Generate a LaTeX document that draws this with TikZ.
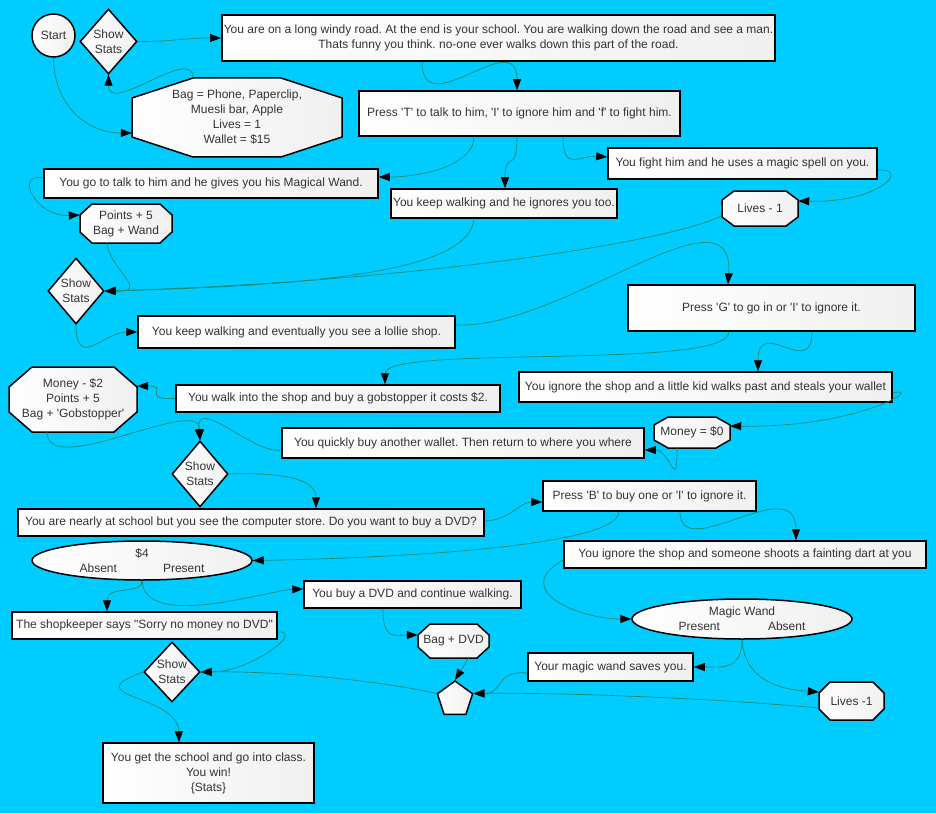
\documentclass[tikz,border=0pt]{standalone}
\usepackage{fontspec}
\setmainfont{Liberation Sans}[Ligatures=TeXOff]
\usetikzlibrary{shapes.geometric,arrows.meta}

\definecolor{skyblue}{HTML}{00CCFF}
\definecolor{linkgreen}{HTML}{188A6C}
\newcommand{\boxfont}{\fontsize{12}{15}\selectfont\frenchspacing}

% stretched octagon: name, x, y, width, height, cut x, cut y, text
\newcommand{\octbox}[8]{%
  \path[octshape] (#2-#4/2+#6,#3-#5/2) -- (#2+#4/2-#6,#3-#5/2) -- (#2+#4/2,#3-#5/2+#7) -- (#2+#4/2,#3+#5/2-#7)
    -- (#2+#4/2-#6,#3+#5/2) -- (#2-#4/2+#6,#3+#5/2) -- (#2-#4/2,#3+#5/2-#7) -- (#2-#4/2,#3-#5/2+#7) -- cycle;
  \node[octtext, minimum width=#4pt, minimum height=#5pt] (#1) at (#2,#3) {#8};
}

\begin{document}
\begin{tikzpicture}[x=1pt, y=-1pt,
    box/.style={draw, rectangle, line width=1.5pt, left color=white, right color=black!6, text=black!80, font=\boxfont, inner sep=2pt, align=center},
    choice/.style={box, diamond, aspect=0.85, inner sep=0pt},
    oval/.style={box, ellipse, inner sep=0pt},
    octshape/.style={draw, line width=1.5pt, left color=white, right color=black!6},
    octtext/.style={rectangle, inner sep=0pt, text=black!80, font=\boxfont, align=center},
    arrow/.style={draw=linkgreen, line width=0.7pt, -{Triangle[length=11pt,width=8pt,color=black]}}
]

\useasboundingbox (0,0) rectangle (936,813);
\fill[skyblue] (0,0) rectangle (936,813);

% The road
\node[box, circle, minimum size=43pt, inner sep=0pt] (start) at (53.5,35.5) {Start};
\node[choice, minimum width=57pt, minimum height=65pt] (stats1) at (108.5,41.5) {Show\\Stats};
\node[box, minimum width=551pt, minimum height=46pt] (road) at (498.5,38) {You are on a long windy road. At the end is your school. You are walking down the road and see a man.\\Thats funny you think. no-one ever walks down this part of the road.};
\octbox{bag}{237}{117.5}{210}{79}{61}{20}{Bag = Phone, Paperclip,\\Muesli bar, Apple\\Lives = 1\\Wallet = \$15}
\node[box, minimum width=321pt, minimum height=45pt] (man) at (519.5,113.5) {Press 'T' to talk to him, 'I' to ignore him and 'f' to fight him.};
\node[box, minimum width=334pt, minimum height=29pt] (talk) at (211,183.5) {You go to talk to him and he gives you his Magical Wand.};
\octbox{wand}{126}{223.5}{92}{39}{12}{11}{Points + 5\\Bag + Wand}
\node[box, minimum width=226pt, minimum height=29pt] (ignore) at (504,203.5) {You keep walking and he ignores you too.};
\node[box, minimum width=269pt, minimum height=31pt] (fight) at (742.5,163.5) {You fight him and he uses a magic spell on you.};
\octbox{hurt}{760}{208.5}{76}{35}{12}{9}{Lives - 1}

% Lollie shop
\node[choice, minimum width=56pt, minimum height=66pt] (stats2) at (76,291) {Show\\Stats};
\node[box, minimum width=317pt, minimum height=32pt] (lollie) at (296.5,332) {You keep walking and eventually you see a lollie shop.};
\node[box, minimum width=287pt, minimum height=46pt] (shop) at (771.5,308) {Press 'G' to go in or 'I' to ignore it.};
\octbox{gob}{73}{399.5}{128}{65}{23}{20}{Money - \$2\\Points + 5\\Bag + 'Gobstopper'}
\node[box, minimum width=324pt, minimum height=27pt] (goin) at (338,398.5) {You walk into the shop and buy a gobstopper it costs \$2.};
\node[box, minimum width=373pt, minimum height=30pt] (kid) at (705.5,387) {You ignore the shop and a little kid walks past and steals your wallet};
\octbox{broke}{692}{432.5}{76}{31}{14}{8}{Money = \$0}
\node[box, minimum width=362pt, minimum height=30pt] (wallet) at (463,443) {You quickly buy another wallet. Then return to where you where};
\node[choice, minimum width=56pt, minimum height=66pt] (stats3) at (200,474) {Show\\Stats};

% Computer store
\node[box, minimum width=466pt, minimum height=27pt] (store) at (251,522.5) {You are nearly at school but you see the computer store. Do you want to buy a DVD?};
\node[box, minimum width=213pt, minimum height=30pt] (dvd) at (649.5,496) {Press 'B' to buy one or 'I' to ignore it.};
\node[oval, minimum width=220pt, minimum height=39pt] (cash) at (142,560.5) {\$4\\Absent\hspace{46pt}Present};
\node[box, minimum width=362pt, minimum height=27pt] (dart) at (745,554.5) {You ignore the shop and someone shoots a fainting dart at you};
\node[box, minimum width=217pt, minimum height=27pt] (buy) at (412.5,594.5) {You buy a DVD and continue walking.};
\node[box, minimum width=265pt, minimum height=27pt] (nomoney) at (144.5,625.5) {The shopkeeper says "Sorry no money no DVD"};
\octbox{bagdvd}{453.5}{641}{71}{34}{12}{11}{Bag + DVD}
\node[oval, minimum width=220pt, minimum height=40pt] (magic) at (742,619) {Magic Wand\\Present\hspace{48pt}Absent};
\node[box, minimum width=165pt, minimum height=28pt] (saved) at (610.5,667) {Your magic wand saves you.};
\node[choice, minimum width=56pt, minimum height=60pt] (stats4) at (172,672) {Show\\Stats};
\node[box, regular polygon, regular polygon sides=5, minimum size=37pt, inner sep=0pt] (join) at (455,699.5) {};
\octbox{dead}{851.5}{701}{65}{38}{11}{11}{Lives -1}
\node[box, minimum width=211pt, minimum height=60pt] (win) at (208.5,773) {You get the school and go into class.\\You win!\\\{Stats\}};

% Arrows
\draw[arrow] (start.south) .. controls +(0,45) and +(-47,0) .. ([yshift=-15.5pt]bag.west);
\draw[arrow] ([xshift=-44pt]bag.north) .. controls +(0,-33) and +(0,41) .. (stats1.south);
\draw[arrow] (stats1.east) .. controls +(40,0) and +(-40,0) .. (road.west);
\draw[arrow] ([xshift=-76.5pt]road.south) .. controls +(0,64) and +(0,-66) .. ([xshift=-2.5pt]man.north);
\draw[arrow] ([xshift=-45.5pt]man.south) .. controls +(0,29) and +(42,0) .. ([yshift=6.5pt]talk.east);
\draw[arrow] ([xshift=-2.5pt]man.south) .. controls +(0,39) and +(0,-39) .. ([xshift=1pt]ignore.north);
\draw[arrow] ([xshift=43.5pt]man.south) .. controls +(0,36) and +(-28,-2) .. ([yshift=6.5pt]fight.west);
\draw[arrow] ([yshift=-6.5pt]fight.east) .. controls +(33,-2) and +(82,2) .. ([yshift=7.5pt]hurt.east);
\draw[arrow] ([yshift=5.5pt]talk.west) .. controls +(-29,-6) and +(-45,2) .. ([yshift=8.5pt]wand.west);
\draw[arrow] ([xshift=-19pt]wand.south) .. controls +(3,27) and +(46,1) .. (stats2.east);
\draw[arrow] ([xshift=-30pt]ignore.south) .. controls +(-4,47) and +(246,-6) .. (stats2.east);
\draw[arrow] ([yshift=-7.5pt]hurt.west) .. controls +(-62,29) and +(296,-9) .. (stats2.east);
\draw[arrow] (stats2.south) .. controls +(0,46) and +(-33,0) .. (lollie.west);
\draw[arrow] ([yshift=7pt]lollie.east) .. controls +(105,5) and +(7,-105) .. ([xshift=-43.5pt]shop.north);
\draw[arrow] ([xshift=-42.5pt]shop.south) .. controls +(0,39) and +(0,-40) .. ([xshift=47pt]goin.north);
\draw[arrow] ([xshift=40.5pt]shop.south) .. controls +(0,49) and +(0,-57) .. ([xshift=52.5pt]kid.north);
\draw[arrow] (goin.west) .. controls +(-36,1.5) and +(33,0) .. ([yshift=13.5pt]gob.east);
\draw[arrow] ([xshift=-26pt]gob.south) .. controls +(0,48) and +(0,-46) .. (stats3.north);
\draw[arrow] ([yshift=-7pt]wallet.west) .. controls +(-27,5) and +(-5,-46) .. (stats3.north);
\draw[arrow] ([yshift=-6pt]kid.east) .. controls +(33,-8) and +(130,2) .. ([yshift=6.5pt]broke.east);
\draw[arrow] ([xshift=-15pt]broke.south) .. controls +(0,47) and +(26,0) .. ([yshift=-7pt]wallet.east);
\draw[arrow] (stats3.east) .. controls +(62,-2) and +(0,-27) .. ([xshift=65pt]store.north);
\draw[arrow] ([yshift=1.5pt]store.east) .. controls +(26,-1) and +(-23,0) .. ([yshift=-6pt]dvd.west);
\draw[arrow] ([xshift=-30.5pt]dvd.south) .. controls +(0,34) and +(148,-2.5) .. (cash.east);
\draw[arrow] ([xshift=30.5pt]dvd.south) .. controls +(0,54) and +(0,-71) .. ([xshift=51pt]dart.north);
\draw[arrow] (cash.south) .. controls +(0,15) and +(0,-27) .. ([xshift=-37.5pt]nomoney.north);
\draw[arrow] (cash.south) .. controls +(3,50) and +(-34,1) .. ([yshift=5.5pt]buy.west);
\draw[arrow] ([xshift=-29.5pt]buy.south) .. controls +(0,32) and +(-23,0) .. ([yshift=6pt]bagdvd.west);
\draw[arrow] ([yshift=-6.5pt]nomoney.east) .. controls +(28,-2) and +(50,0) .. (stats4.east);
\draw[arrow] (join.corner 2) .. controls +(-57,-13) and +(80,-1) .. (stats4.east);
\draw[arrow] (stats4.west) .. controls +(-70,25) and +(-1,-48) .. ([xshift=-29.5pt]win.north);
\draw[arrow] ([xshift=15pt]bagdvd.south) -- (join.corner 1);
\draw[arrow] ([yshift=-5.5pt]dart.west) .. controls +(-54,30) and +(-52,0) .. (magic.west);
\draw[arrow] (magic.south) .. controls +(0,31) and +(27,0) .. (saved.east);
\draw[arrow] (magic.south) .. controls +(3,46) and +(-29,-2) .. ([yshift=9pt]dead.west);
\draw[arrow] ([yshift=-6pt]saved.west) .. controls +(-33,-3) and +(31,0) .. (join.corner 5);
\draw[arrow] ([yshift=-7pt]dead.west) .. controls +(-119,-11) and +(76,-1) .. (join.corner 5);

\end{tikzpicture}
\end{document}
